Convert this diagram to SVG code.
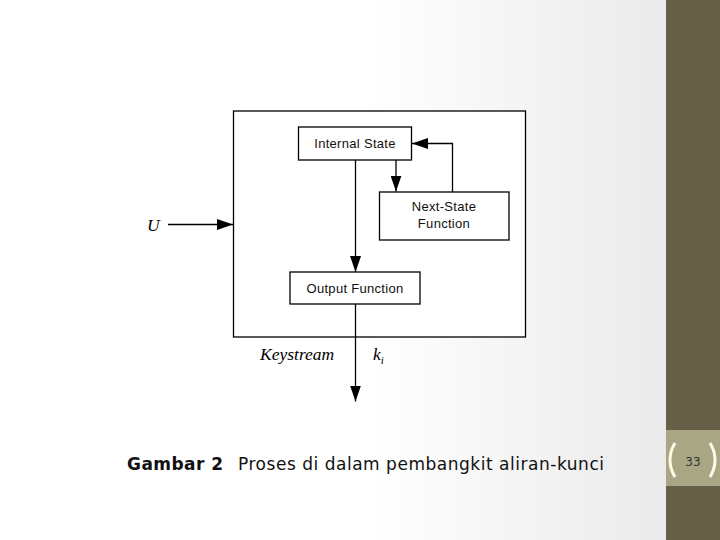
<svg xmlns="http://www.w3.org/2000/svg" width="720" height="540" viewBox="0 0 720 540">
<defs>
<linearGradient id="bg" x1="0" y1="0" x2="1" y2="0">
<stop offset="0" stop-color="#ffffff"/>
<stop offset="0.55" stop-color="#ffffff"/>
<stop offset="1" stop-color="#eaeaea"/>
</linearGradient>
<marker id="ah" viewBox="0 0 16 11" refX="16" refY="5.5" markerWidth="16" markerHeight="11" markerUnits="userSpaceOnUse" orient="auto">
<path d="M0,0 L16,5.5 L0,11 Z" fill="#000"/>
</marker>
<style>
.box{fill:#fff;stroke:#000;stroke-width:1.3}
.lbl{font-family:"Liberation Sans",Arial,sans-serif;font-size:13px;letter-spacing:0.3px;fill:#111;text-anchor:middle}
.it{font-family:"Liberation Serif","Times New Roman",serif;font-style:italic;font-size:17.5px;fill:#000}
.con{fill:none;stroke:#000;stroke-width:1.3;marker-end:url(#ah)}
.cap{font-family:"DejaVu Sans",Verdana,sans-serif;font-size:17px;fill:#111}
</style>
</defs>
<rect x="0" y="0" width="666" height="540" fill="url(#bg)"/>
<rect x="666" y="0" width="54" height="540" fill="#675f48"/>
<rect x="666" y="430" width="54" height="56" fill="#a9a683"/>
<g id="bracket-left"><path d="M675,443 Q670,451 670,460 Q670,469 675,477" fill="none" stroke="#fffbea" stroke-width="3"/></g>
<g id="bracket-right"><path d="M710,443 Q715,451 715,460 Q715,469 710,477" fill="none" stroke="#fffbea" stroke-width="3"/></g>
<text x="693" y="466" font-family="DejaVu Sans,Verdana,sans-serif" font-size="12" fill="#333" text-anchor="middle">33</text>

<g id="outer"><rect class="box" x="233.5" y="111" width="292" height="226"/></g>
<g id="internal-state"><rect class="box" x="298.5" y="127" width="113" height="33"/><text class="lbl" x="355" y="147.5">Internal State</text></g>
<g id="next-state"><rect class="box" x="379.5" y="192" width="129.5" height="48"/><text class="lbl" x="444" y="211">Next-State</text><text class="lbl" x="444" y="228">Function</text></g>
<g id="output-function"><rect class="box" x="290" y="272" width="130" height="32"/><text class="lbl" x="355" y="292.5">Output Function</text></g>

<g id="connectors">
<path class="con" d="M355.5,160 V272"/>
<path class="con" d="M396,160 V191.5"/>
<path class="con" d="M452.5,192 V143.5 H412"/>
<path class="con" d="M168,224.5 H233"/>
<path class="con" d="M355.5,304 V401.5"/>
</g>

<g id="labels">
<text class="it" x="147" y="231">U</text>
<text class="it" x="260" y="360">Keystream</text>
<text class="it" x="373" y="360">k<tspan font-size="11" dy="4">i</tspan></text>
</g>

<g id="caption">
<text class="cap" x="127" y="470" font-weight="bold" textLength="96" lengthAdjust="spacing">Gambar 2</text>
<text class="cap" x="238" y="470" textLength="366" lengthAdjust="spacing">Proses di dalam pembangkit aliran-kunci</text>
</g>
</svg>
